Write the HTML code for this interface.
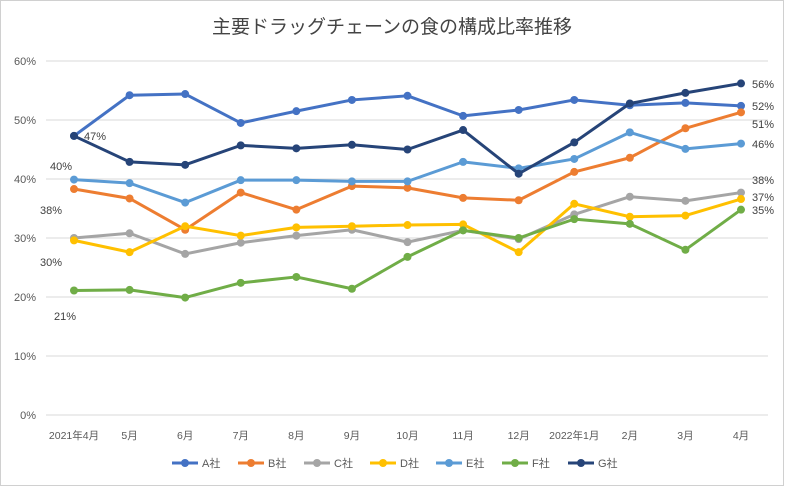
<!DOCTYPE html>
<html><head><meta charset="utf-8"><style>
body{margin:0;background:#fff;font-family:"Liberation Sans","Noto Sans CJK JP",sans-serif}
svg text{font-family:"Liberation Sans","Noto Sans CJK JP",sans-serif}
</style></head><body>
<svg id="c" width="785" height="487">
<rect x="0.5" y="0.5" width="783" height="485" fill="#fff" stroke="#d0d0d0"/>
<text x="392" y="33" text-anchor="middle" font-size="19" fill="#444">主要ドラッグチェーンの食の構成比率推移</text>
<g id="grid"></g><g id="lines"></g><g id="legend"></g>
</svg>
<script>
const categories=["2021年4月","5月","6月","7月","8月","9月","10月","11月","12月","2022年1月","2月","3月","4月"];
const yTicks=[0,10,20,30,40,50,60];
const seriesNames=["A社","B社","C社","D社","E社","F社","G社"];
const colors=["#4472C4","#ED7D31","#A5A5A5","#FFC000","#5B9BD5","#70AD47","#264478"];
const A=[47.3,54.2,54.4,49.5,51.5,53.4,54.1,50.7,51.7,53.4,52.5,52.9,52.4];
const B=[38.3,36.7,31.4,37.7,34.8,38.8,38.5,36.8,36.4,41.2,43.6,48.6,51.3];
const C=[30.0,30.8,27.3,29.2,30.4,31.4,29.3,31.3,29.8,34.0,37.0,36.3,37.7];
const D=[29.6,27.6,32.0,30.4,31.8,32.0,32.2,32.3,27.6,35.8,33.6,33.8,36.6];
const E=[39.9,39.3,36.0,39.8,39.8,39.6,39.6,42.9,41.8,43.4,47.9,45.1,46.0];
const F=[21.1,21.2,19.9,22.4,23.4,21.4,26.8,31.3,30.0,33.2,32.4,28.0,34.8];
const G=[47.3,42.9,42.4,45.7,45.2,45.8,45.0,48.3,40.9,46.2,52.8,54.6,56.2];
const series=[A,B,C,D,E,F,G];
const NS="http://www.w3.org/2000/svg";
const x=i=>74+i*(741-74)/(categories.length-1);
const y=v=>415-v*(415-61)/60;
function mk(t,a,p){const e=document.createElementNS(NS,t);for(const k in a)e.setAttribute(k,a[k]);p.appendChild(e);return e;}
const grid=document.getElementById('grid');
yTicks.forEach(t=>{
 const l=mk('line',{x1:46,x2:768,y1:y(t),y2:y(t),stroke:'#d9d9d9','stroke-width':1},grid);
 
 
 const tx=mk('text',{x:36,y:y(t)+4,'text-anchor':'end','font-size':11,fill:'#595959'},grid);
 tx.textContent=t+'%';
 
 
});
categories.forEach((c,i)=>{
 const tx=mk('text',{x:x(i),y:439,'text-anchor':'middle','font-size':10.5,fill:'#595959'},grid);
 tx.textContent=c;
 
 
});
const lines=document.getElementById('lines');
series.forEach((s,k)=>{
 const g=mk('g',{},lines);
 
 
 const p=mk('polyline',{points:s.map((v,i)=>x(i)+','+y(v)).join(' '),fill:'none',stroke:colors[k],'stroke-width':3,'stroke-linejoin':'round'},g);
 
 
 s.forEach((v,i)=>{
  const c=mk('circle',{cx:x(i),cy:y(v),r:4,fill:colors[k]},g);
  
  
 });
});
// data labels
const n=categories.length-1;
const endOffsets=[0,0,-14,5,0,0,0];
const startLabels=[[0,84,140],[1,40,214],[5,54,320],[3,40,266],[4,50,170]];
startLabels.forEach(([k,lx,ly])=>{
 const tx=mk('text',{x:lx,y:ly,'font-size':11,fill:'#404040'},lines);
 tx.textContent=Math.round(series[k][0])+'%';
 
 
});
const endY=[110,128,184,201,148,214,88];
[6,0,1,4,2,3,5].forEach(k=>{
 const tx=mk('text',{x:752,y:endY[k],'font-size':11,fill:'#404040'},lines);
 tx.textContent=Math.round(series[k][n])+'%';
 
 
});
const leg=document.getElementById('legend');
seriesNames.forEach((nm,k)=>{
 const lx=172+k*66;
 const g=mk('g',{},leg);
 
 
 mk('line',{x1:lx,x2:lx+26,y1:463,y2:463,stroke:colors[k],'stroke-width':3},g);
 mk('circle',{cx:lx+13,cy:463,r:4,fill:colors[k]},g);
 const t=mk('text',{x:lx+30,y:467,'font-size':11,fill:'#595959'},g);
 t.textContent=nm;
});
</script>
</body></html>
